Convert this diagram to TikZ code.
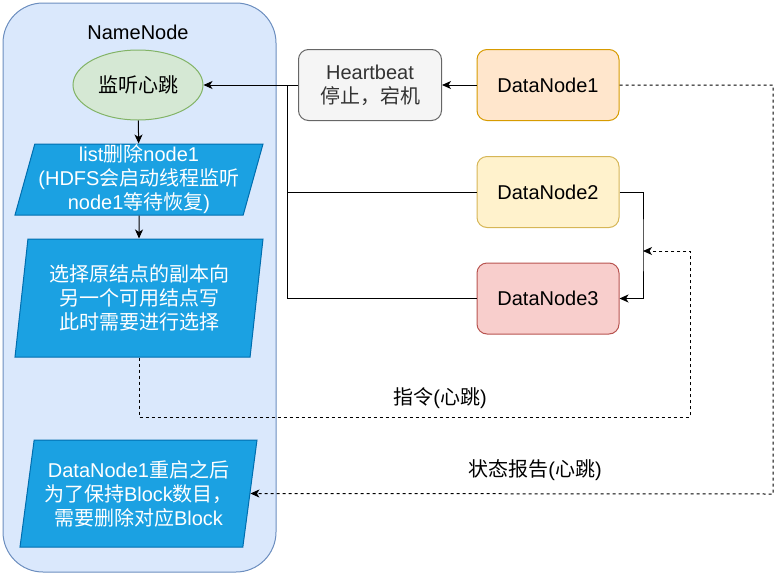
\documentclass[tikz,border=0pt]{standalone}
\usepackage{fontspec}
\setmainfont{Liberation Sans}
\newfontfamily\cjk{Noto Sans CJK SC}
\usepackage{tikz}
\usetikzlibrary{shapes.geometric,arrows.meta}
\definecolor{nnfill}{HTML}{DAE8FC}
\definecolor{nnline}{HTML}{6C8EBF}
\definecolor{okfill}{HTML}{D5E8D4}
\definecolor{okline}{HTML}{82B366}
\definecolor{parfill}{HTML}{1BA1E2}
\definecolor{parline}{HTML}{006EAF}
\definecolor{hbfill}{HTML}{F5F5F5}
\definecolor{hbline}{HTML}{666666}
\definecolor{hbtext}{HTML}{333333}
\definecolor{dnafill}{HTML}{FFE6CC}
\definecolor{dnaline}{HTML}{D79B00}
\definecolor{dnbfill}{HTML}{FFF2CC}
\definecolor{dnbline}{HTML}{D6B656}
\definecolor{dncfill}{HTML}{F8CECC}
\definecolor{dncline}{HTML}{B85450}
\tikzset{box/.style = {draw, rounded corners=10pt, line width=1pt, minimum width=142pt, minimum height=71pt, align=center}}
\tikzset{para/.style = {trapezium, trapezium stretches body, draw=parline, fill=parfill, text=white, line width=1pt, align=center, inner sep=0pt}}
\tikzset{link/.style = {line width=1pt, -{Stealth[length=9pt,width=8pt,inset=2.5pt]}}}
\tikzset{wire/.style = {line width=1pt}}
\tikzset{report/.style = {link, dash pattern=on 3pt off 3pt}}

\begin{document}
\begin{tikzpicture}[x=1pt, y=-1pt, font=\fontsize{20pt}{24pt}\selectfont]
  \useasboundingbox (0,0) rectangle (782,587);
  % NameNode side
  \node [draw=nnline, fill=nnfill, line width=1pt, rounded corners=40pt,
         minimum width=273pt, minimum height=569pt] (nn) at (139.5,287.5) {};
  \node (nnlabel) at (138,32) {NameNode};
  \node [ellipse, draw=okline, fill=okfill, line width=1pt, minimum width=130pt,
         minimum height=70pt] (listen) at (138,85) {\cjk 监听心跳};
  \node [para, trapezium left angle=74, trapezium right angle=106,
         minimum width=248pt, minimum height=71pt] (drop) at (139,179.5)
        {list{\cjk 删除}node1\\({HDFS}{\cjk 会启动线程监听}\\node1{\cjk 等待恢复})};
  \node [para, trapezium left angle=79, trapezium right angle=101,
         minimum width=248pt, minimum height=118pt] (pick) at (139,298)
        {\cjk 选择原结点的副本向\\\cjk 另一个可用结点写\\\cjk 此时需要进行选择};
  \node [para, trapezium left angle=78, trapezium right angle=102,
         minimum width=237pt, minimum height=107pt] (clean) at (138.5,493.5)
        {DataNode1{\cjk 重启之后}\\{\cjk 为了保持}Block{\cjk 数目，}\\{\cjk 需要删除对应}Block};
  % DataNode side
  \node [box, draw=hbline, fill=hbfill, text=hbtext, minimum width=143pt] (hb) at (370,85)
        {Heartbeat\\\cjk 停止，宕机};
  \node [box, draw=dnaline, fill=dnafill] (dn1) at (548,85) {DataNode1};
  \node [box, draw=dnbline, fill=dnbfill] (dn2) at (548,192) {DataNode2};
  \node [box, draw=dncline, fill=dncfill] (dn3) at (548,298.5) {DataNode3};
  \coordinate (bus) at (287,85);
  \coordinate (rbus) at (643,245);
  \coordinate (cmdcorner) at (690,417);
  \coordinate (cmdtip) at (643,251);
  \coordinate (stcorner) at (773,494);
  \draw [link] (listen) -- (drop);
  \draw [link] (drop) -- (pick);
  \draw [link] (dn1) -- (hb);
  \draw [link] (hb) -- (listen);
  \draw [wire] (dn2.west) -| (bus);
  \draw [wire] (dn3.west) -| (bus);
  \draw [link] (dn2.east) -| (rbus) |- (dn3.east);
  \draw [report] (pick.south) |- (cmdcorner) |- (cmdtip);
  \draw [report] (dn1.east) -| (stcorner) -- (clean.east);
  \node (cmdlabel) at (440,398) {{\cjk 指令}({\cjk 心跳})};
  \node (stlabel) at (535,470) {{\cjk 状态报告}({\cjk 心跳})};
\end{tikzpicture}
\end{document}
